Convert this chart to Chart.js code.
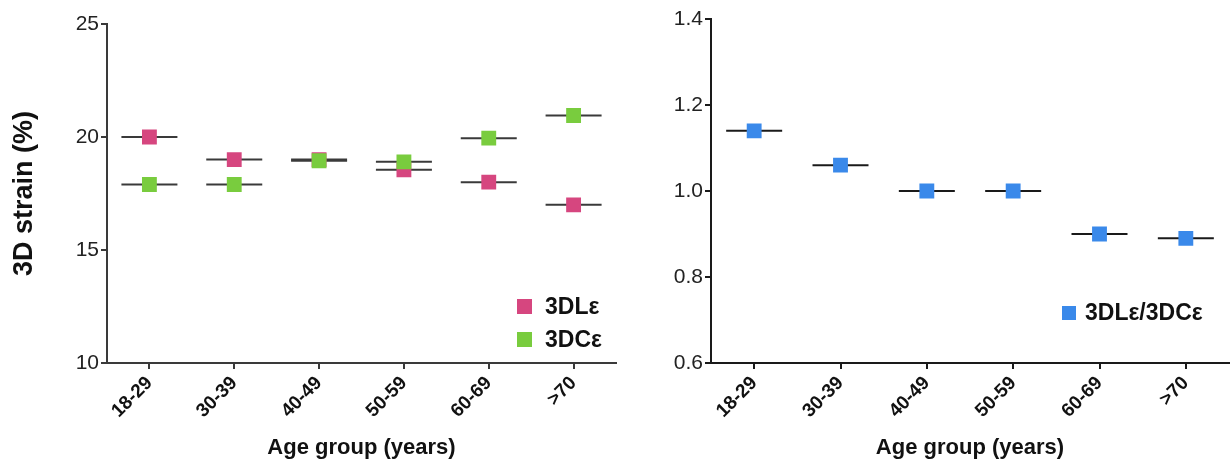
<!DOCTYPE html>
<html>
<head>
<meta charset="utf-8">
<script src="https://cdn.jsdelivr.net/npm/chart.js@4.4.1/dist/chart.umd.min.js"></script>
<style>
  body { margin: 0; background: #fff; width: 1230px; height: 464px; position: relative; overflow: hidden;
         font-family: 'Liberation Sans', Arial, Helvetica, sans-serif; }
  canvas { position: absolute; top: 0; }
  #strainChart { left: 0; }
  #ratioChart { left: 620px; }
  .legend { position: absolute; font-weight: bold; font-size: 23px; color: #111; }
  .legend-item { display: flex; align-items: center; height: 33px; white-space: nowrap; }
  .legend-box { flex: none; }
</style>
</head>
<body>
<canvas id="strainChart" width="620" height="464"></canvas>
<canvas id="ratioChart" width="610" height="464"></canvas>
<div class="legend" id="strainLegend" style="left:517px; top:290px"></div>
<div class="legend" id="ratioLegend" style="left:1062px; top:296px"></div>
<script>
// --- data ---
const ageGroups = ["18-29", "30-39", "40-49", "50-59", "60-69", ">70"];
const strain3DL = [20.0, 19.0, 19.0, 18.55, 18.0, 17.0];
const strain3DC = [17.9, 17.9, 18.95, 18.9, 19.95, 20.95];
const strainRatio = [1.14, 1.06, 1.0, 1.0, 0.9, 0.89];
const strainTicks = [10, 15, 20, 25];
const ratioTicks = [0.6, 0.8, 1.0, 1.2, 1.4];

const PINK = "#d6467f";
const GREEN = "#79cc3e";
const BLUE = "#3a89ea";

Chart.defaults.font.family = "'Liberation Sans', Arial, Helvetica, sans-serif";
Chart.defaults.color = "#222";

// horizontal mean bar behind each marker
function meanLine(values, color) {
  return {
    data: values, showLine: false, order: 5,
    pointStyle: "line", pointRadius: 28, pointHoverRadius: 28,
    pointBorderWidth: 2, pointBorderColor: color
  };
}

// lower order is drawn on top
function squares(label, values, color, order) {
  return {
    label: label, data: values, showLine: false, order: order,
    pointStyle: "rect", pointRadius: 10.5, pointHoverRadius: 10.5,
    pointBorderWidth: 0, pointBackgroundColor: color,
    backgroundColor: color, borderColor: color
  };
}

function xScale(axisColor) {
  return {
    type: "category", offset: true,
    border: { color: axisColor, width: 2 },
    grid: { drawOnChartArea: false, tickLength: 6, color: axisColor, lineWidth: 2 },
    ticks: { autoSkip: false, minRotation: 45, maxRotation: 45, padding: 3, color: "#111",
             font: { size: 19, weight: "bold" } },
    title: { display: true, text: "Age group (years)", color: "#111",
             font: { size: 22, weight: "bold" }, padding: { top: 0, bottom: 3 } },
    afterFit: s => { s.height = 101; s.paddingLeft = 0; s.paddingRight = 0; }
  };
}

function yScale(min, max, tickValues, width, axisColor, digits, titleText) {
  return {
    min: min, max: max,
    afterBuildTicks: s => { s.ticks = tickValues.map(v => ({ value: v })); },
    border: { color: axisColor, width: 2 },
    grid: { drawOnChartArea: false, tickLength: 6, color: axisColor, lineWidth: 2 },
    ticks: { padding: 2, color: "#222", font: { size: 21 },
             callback: v => v.toFixed(digits) },
    title: { display: !!titleText, text: titleText || "", color: "#111",
             font: { size: 27, weight: "bold" }, padding: { top: 8, bottom: 0 } },
    afterFit: s => { s.width = width; }
  };
}

function makeChart(id, datasets, padding, yOpts) {
  return new Chart(document.getElementById(id), {
    type: "line",
    data: { labels: ageGroups, datasets: datasets },
    options: {
      responsive: false,
      animation: false,
      layout: { padding: padding, autoPadding: false },
      plugins: { legend: { display: false }, tooltip: { enabled: false } },
      scales: { x: xScale(yOpts.axisColor), y: yOpts.scale }
    }
  });
}

function buildLegend(el, chart, boxSize, gap) {
  chart.data.datasets.filter(d => d.label).forEach(d => {
    const row = document.createElement("div");
    row.className = "legend-item";
    row.innerHTML = `<span class="legend-box" style="width:${boxSize}px;height:${boxSize}px;margin-right:${gap}px;background:${d.pointBackgroundColor}"></span><span>${d.label}</span>`;
    el.appendChild(row);
  });
}

// --- left: 3D strain ---
const strainChart = makeChart("strainChart", [
  squares("3DLε", strain3DL, PINK, 1),
  squares("3DCε", strain3DC, GREEN, 0),
  meanLine(strain3DL, "#3a3a3a"),
  meanLine(strain3DC, "#3a3a3a")
], { left: 0, right: 4, top: 24, bottom: 0 }, {
  axisColor: "#3a3a3a",
  scale: yScale(10, 25, strainTicks, 107, "#3a3a3a", 0, "3D strain (%)")
});

// --- right: ratio ---
const ratioChart = makeChart("ratioChart", [
  squares("3DLε/3DCε", strainRatio, BLUE, 0),
  meanLine(strainRatio, "#1a1a1a")
], { left: 0, right: 1, top: 19, bottom: 0 }, {
  axisColor: "#1a1a1a",
  scale: yScale(0.6, 1.4, ratioTicks, 91, "#1a1a1a", 1, null)
});

buildLegend(document.getElementById("strainLegend"), strainChart, 15, 13);
buildLegend(document.getElementById("ratioLegend"), ratioChart, 14, 9);
</script>
</body>
</html>
